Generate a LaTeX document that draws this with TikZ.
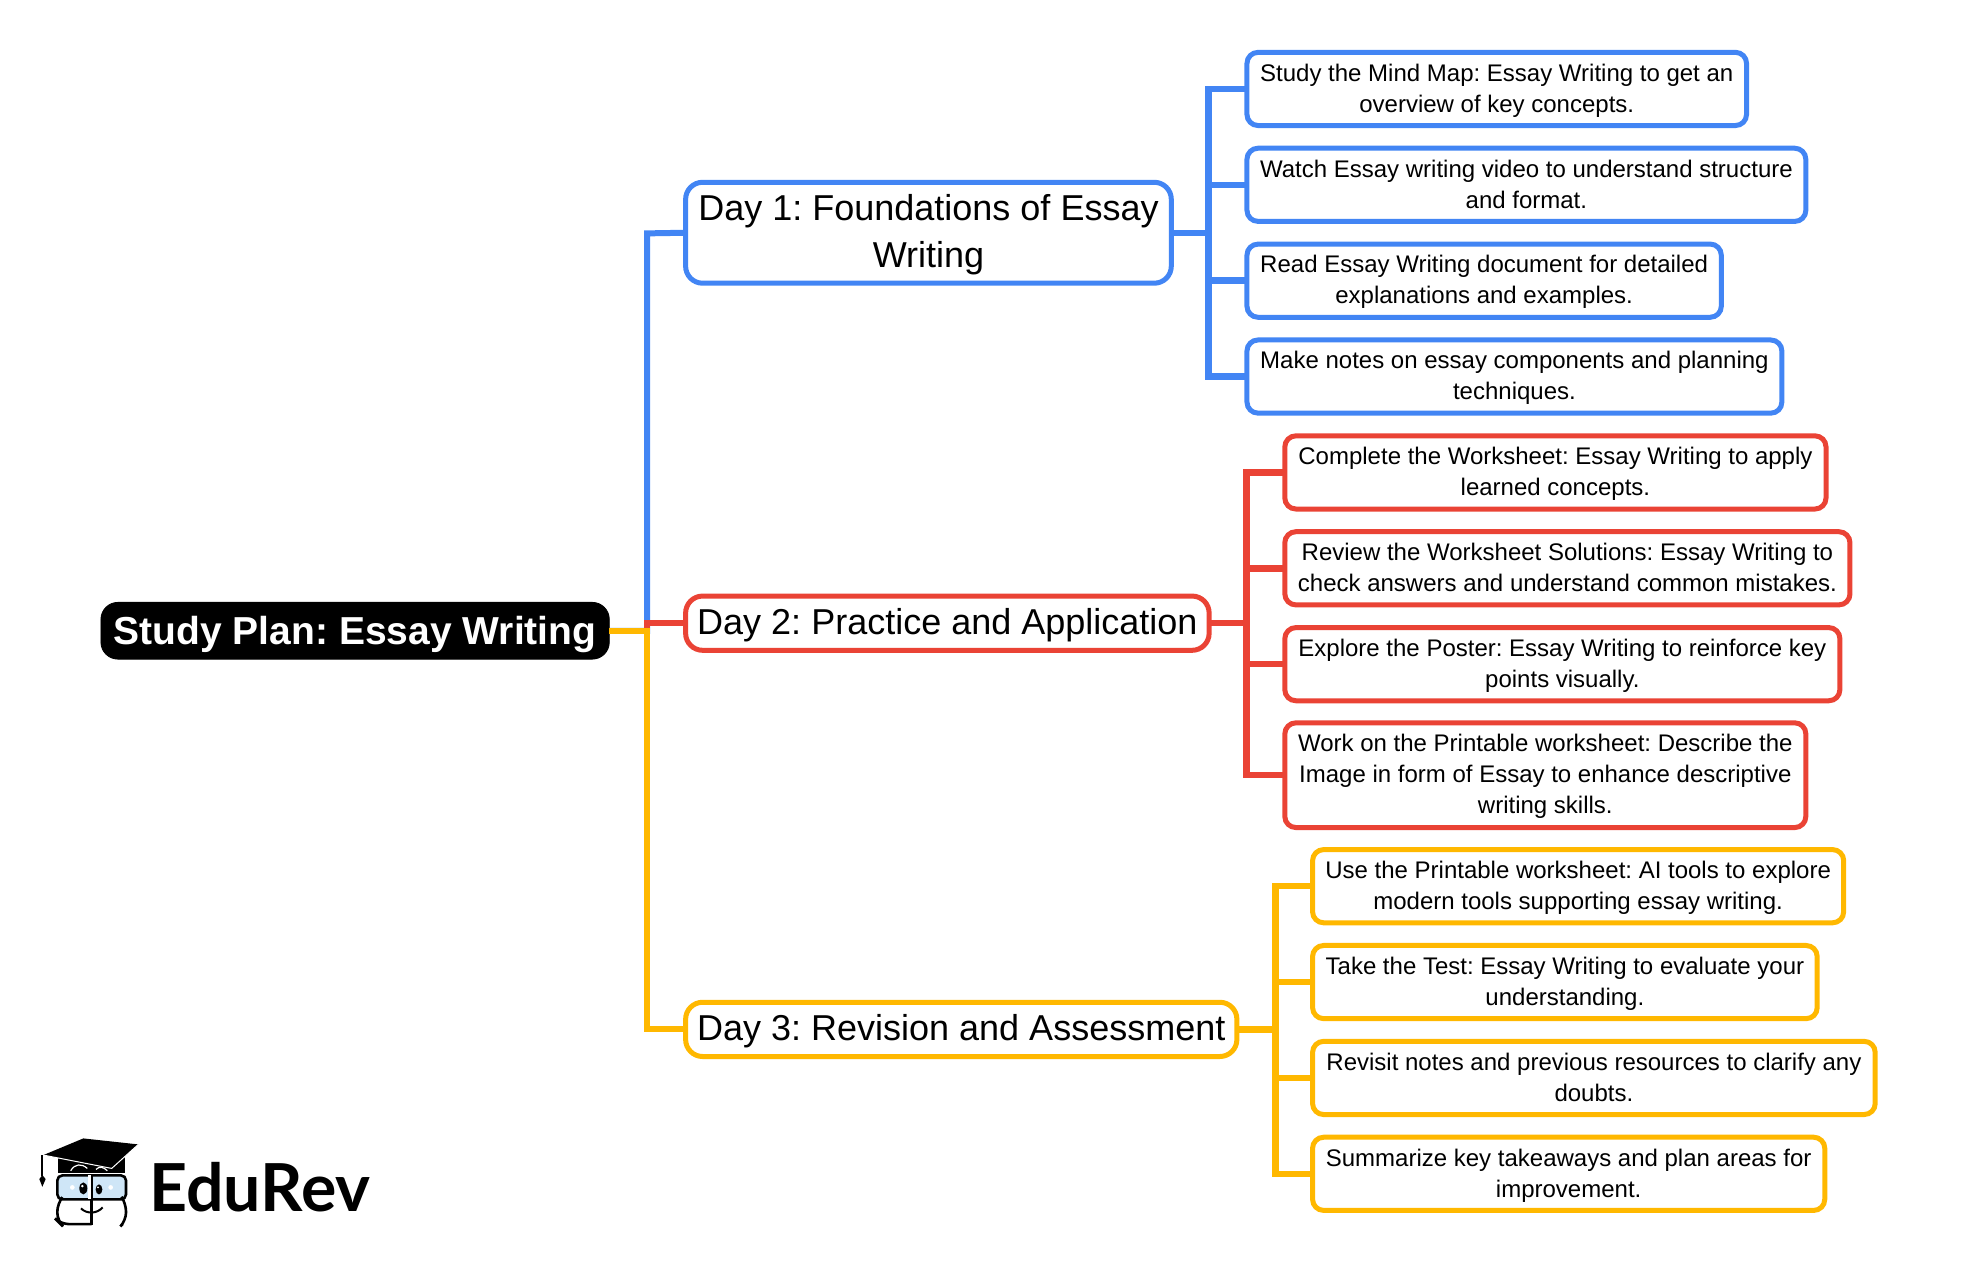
\documentclass[tikz,border=0pt]{standalone}
\usepackage{fontspec}
\setmainfont{Liberation Sans}
\newfontfamily\logofont{Lato}
\usetikzlibrary{positioning}

\definecolor{dayblue}{HTML}{4285F4}
\definecolor{dayred}{HTML}{EA4335}
\definecolor{dayyellow}{HTML}{FFB800}
\definecolor{lensblue}{HTML}{CFE6F7}

\def\unitpx{0.6307pt}

\tikzset{
  wd/.style={minimum width=#1*\unitpx, text width=#1*\unitpx},
  ht/.style={minimum height=#1*\unitpx},
  strutted/.style={execute at begin node=\frenchspacing\strut\vrule height \dimexpr\ht\strutbox+#1\relax width 0pt,
    execute at end node=\strut},
  rootbox/.style={fill=black, draw=black, text=white, rounded corners=8.5pt, anchor=west, align=flush center,
    inner sep=0pt, outer sep=0pt, strutted=3.8pt, font=\fontsize{19.5}{24}\selectfont\bfseries},
  daybox/.style={fill=white, line width=2.5pt, rounded corners=8.5pt, anchor=west, align=flush center,
    inner sep=0pt, outer sep=0pt, strutted=1.9pt, font=\fontsize{18}{23.7}\selectfont},
  leafbox/.style={fill=white, line width=2.5pt, rounded corners=5.5pt, anchor=west, align=flush center,
    inner sep=0pt, outer sep=0pt, strutted=1.5pt, font=\fontsize{12}{15.5}\selectfont},
  mainline/.style={line width=3pt, line join=miter},
  subline/.style={line width=3.2pt, line join=miter},
}

\begin{document}
\begin{tikzpicture}[x=\unitpx, y=-\unitpx]
\useasboundingbox (0,0) rectangle (1568,1001);

\def\xt{513}
\def\xa{958}
\def\xb{988}
\def\xc{1011}

% root and days
\node[rootbox, wd=403, ht=45] (root) at (80,500) {Study Plan: Essay Writing};

\node[daybox, draw=dayblue, wd=385, ht=80] (dayone) at (543.5,184.5) {Day 1: Foundations of Essay\\Writing};
\node[daybox, draw=dayred, wd=415, ht=43] (daytwo) at (543.5,494) {Day 2: Practice and Application};
\node[daybox, draw=dayyellow, wd=437, ht=43] (daythree) at (543.5,816) {Day 3: Revision and Assessment};

% day 1
\node[leafbox, draw=dayblue, wd=396, ht=58] (bluea) at (988.5,70.5) {Study the Mind Map: Essay Writing to get an\\overview of key concepts.};
\node[leafbox, draw=dayblue, wd=443, ht=58] (blueb) at (988.5,146.5) {Watch Essay writing video to understand structure\\and format.};
\node[leafbox, draw=dayblue, wd=376, ht=58] (bluec) at (988.5,222.5) {Read Essay Writing document for detailed\\explanations and examples.};
\node[leafbox, draw=dayblue, wd=424, ht=58] (blued) at (988.5,298.5) {Make notes on essay components and planning\\techniques.};

% day 2
\node[leafbox, draw=dayred, wd=429, ht=58] (reda) at (1018.5,374.5) {Complete the Worksheet: Essay Writing to apply\\learned concepts.};
\node[leafbox, draw=dayred, wd=448, ht=58] (redb) at (1018.5,450.5) {Review the Worksheet Solutions: Essay Writing to\\check answers and understand common mistakes.};
\node[leafbox, draw=dayred, wd=440, ht=58] (redc) at (1018.5,526.5) {Explore the Poster: Essay Writing to reinforce key\\points visually.};
\node[leafbox, draw=dayred, wd=413, ht=83] (redd) at (1018.5,614.5) {Work on the Printable worksheet: Describe the\\Image in form of Essay to enhance descriptive\\writing skills.};

% day 3
\node[leafbox, draw=dayyellow, wd=421, ht=58] (yellowa) at (1040.5,702.5) {Use the Printable worksheet: AI tools to explore\\modern tools supporting essay writing.};
\node[leafbox, draw=dayyellow, wd=400, ht=58] (yellowb) at (1040.5,778.5) {Take the Test: Essay Writing to evaluate your\\understanding.};
\node[leafbox, draw=dayyellow, wd=446, ht=58] (yellowc) at (1040.5,854.5) {Revisit notes and previous resources to clarify any\\doubts.};
\node[leafbox, draw=dayyellow, wd=406, ht=58] (yellowd) at (1040.5,930.5) {Summarize key takeaways and plan areas for\\improvement.};

% trunk
\draw[mainline, dayblue] (root.east) -| (\xt,185) -- (dayone.west);
\draw[mainline, dayred] (root.east) -- (\xt,500) -- (\xt,494) -- (daytwo.west);
\draw[mainline, dayyellow] (root.east) -| (\xt,816) -- (daythree.west);

% branches
\draw[subline, dayblue] (dayone.east) -- (\xa,184.5);
\draw[subline, dayblue] (bluea.west) -| (\xa,298.5) -- (blued.west);
\draw[subline, dayblue] (\xa,146.5) -- (blueb.west);
\draw[subline, dayblue] (\xa,222.5) -- (bluec.west);

\draw[subline, dayred] (daytwo.east) -- (\xb,494);
\draw[subline, dayred] (reda.west) -| (\xb,614.5) -- (redd.west);
\draw[subline, dayred] (\xb,450.5) -- (redb.west);
\draw[subline, dayred] (\xb,526.5) -- (redc.west);

\draw[subline, dayyellow] (daythree.east) -- (\xc,816);
\draw[subline, dayyellow] (yellowa.west) -| (\xc,930.5) -- (yellowd.west);
\draw[subline, dayyellow] (\xc,778.5) -- (yellowb.west);
\draw[subline, dayyellow] (\xc,854.5) -- (yellowc.west);

% logo
\begin{scope}[x=0.16667pt, y=-0.16667pt, yshift=-550pt]
\fill (175,172) -- (375,172) -- (375,220) -- (175,220) -- cycle;
\fill (130,165) -- (250,115) -- (415,133) -- (335,205) -- cycle;
\draw[white, line width=0.5pt] (130,165) -- (335,205) -- (415,133);
\draw[white, line width=0.6pt] (212,212) .. controls (225,190) and (245,190) .. (262,205);
\draw[white, line width=0.6pt] (288,208) .. controls (298,198) and (310,200) .. (322,212);
\draw[line width=0.9pt] (127,165) -- (127,228);
\fill (127,225) -- (137,237) -- (127,260) -- (118,237) -- cycle;
\draw[line width=1.3pt, fill=lensblue, rounded corners=2.5pt] (172,226) rectangle (378,298);
\draw[line width=1.3pt, rounded corners=4pt] (275,372) -- (182,372) -- (172,362) -- (172,310) -- (182,298);
\draw[line width=1.3pt, rounded corners=4pt] (370,298) -- (378,310) -- (378,362) -- (368,372);
\draw[line width=1.3pt] (275,226) -- (275,375);
\fill[white] (264,226) rectangle (272,296);
\fill (250,265) ellipse (12 and 18);
\fill (297,268) ellipse (10 and 15);
\fill[white] (247,258) circle (4);
\fill[white] (294,262) circle (3);
\fill[white] (217,262) circle (7);
\fill[white] (332,262) circle (7);
\draw[line width=1pt] (243,325) .. controls (260,342) and (290,342) .. (308,322);
\node[inner sep=0pt, anchor=base west, font=\logofont\fontsize{33.1}{33}\selectfont\bfseries] (brand) at (447,335) {EduRev};
\end{scope}

\end{tikzpicture}
\end{document}
